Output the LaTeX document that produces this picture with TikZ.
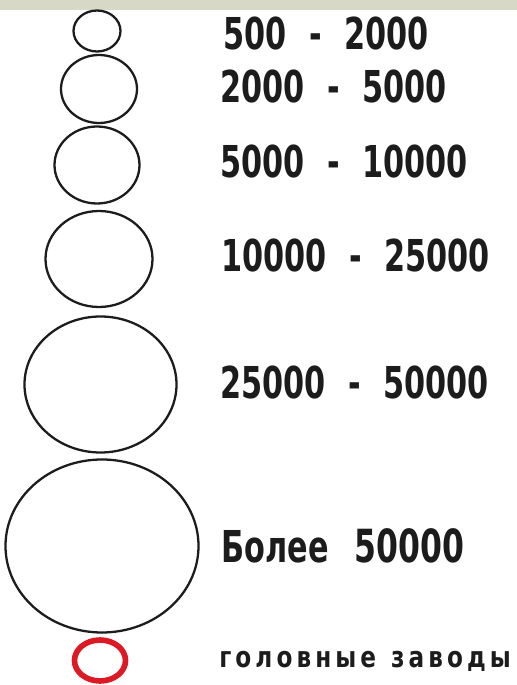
\documentclass[tikz,border=0pt]{standalone}
\usepackage{xcolor}
\usepackage{fontspec}
\usepackage{tikz}
\newfontfamily\rangefont{DejaVu Sans Bold}[FakeStretch=0.69]
\newfontfamily\notefont{DejaVu Sans Bold}[FakeStretch=0.8,LetterSpace=14]
\definecolor{LGBand}{HTML}{D7D8C6}
\definecolor{LGRing}{HTML}{1C1C1C}
\definecolor{LGRed}{HTML}{DC1A26}
\newcommand{\rng}[2]{#1\hspace{0.45cm}-\hspace{0.45cm}#2}
\tikzset{
  sizering/.style={draw=LGRing,line width=1.3pt},
  headring/.style={draw=LGRed,line width=3.2pt},
  rangelabel/.style={anchor=base west,inner sep=0pt,text=LGRing,font=\rangefont\fontsize{25}{30}\selectfont}
}

\begin{document}
\begin{tikzpicture}[x=1cm,y=1cm]
\path[use as bounding box] (0,0) rectangle (10.34,13.70);
\fill[LGBand] (0,13.50) rectangle (10.34,13.70);
\draw[sizering] (1.94,13.08) ellipse [x radius=0.47,y radius=0.41];
\node[rangelabel] (r1) at (4.46,12.70) {\rng{500}{2000}};
\draw[sizering] (1.98,11.92) ellipse [x radius=0.76,y radius=0.68];
\node[rangelabel] (r2) at (4.40,11.64) {\rng{2000}{5000}};
\draw[sizering] (1.94,10.40) ellipse [x radius=0.85,y radius=0.77];
\node[rangelabel] (r3) at (4.40,10.14) {\rng{5000}{10000}};
\draw[sizering] (1.98,8.52) ellipse [x radius=1.07,y radius=0.96];
\node[rangelabel] (r4) at (4.42,8.26) {\rng{10000}{25000}};
\draw[sizering] (2.01,6.01) ellipse [x radius=1.52,y radius=1.36];
\node[rangelabel] (r5) at (4.40,5.72) {\rng{25000}{50000}};
\draw[sizering] (2.04,2.78) ellipse [x radius=1.93,y radius=1.73];
\node[rangelabel] (r6) at (4.42,2.44) {Более\hspace{0.52cm}\fontsize{26}{30}\selectfont 50000};
\draw[headring] (2.00,0.49) ellipse [x radius=0.51,y radius=0.41];
\node[anchor=base west,inner sep=0pt,text=LGRing,font=\notefont\fontsize{16.5}{20}\selectfont] (head) at (4.38,0.34) {головные\hspace{0.3cm}заводы};
\end{tikzpicture}
\end{document}
